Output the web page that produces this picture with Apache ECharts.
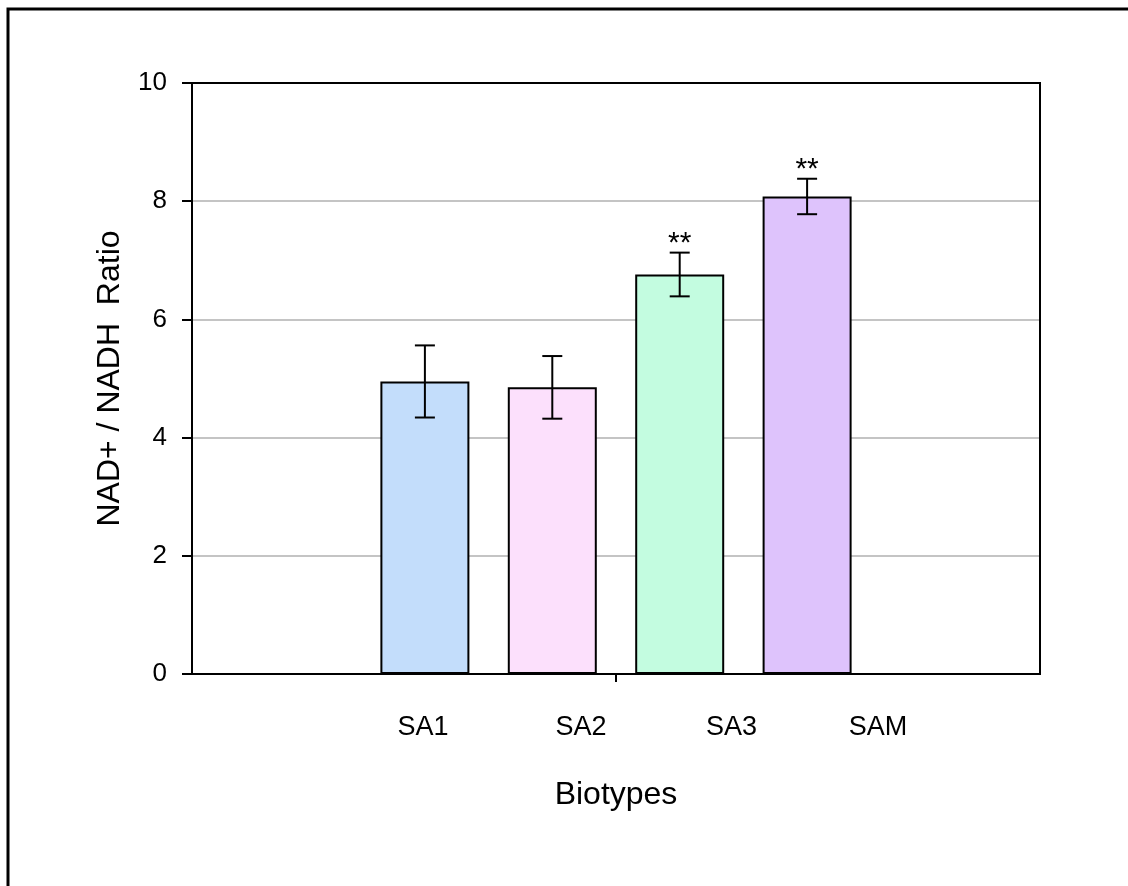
<!DOCTYPE html>
<html>
<head>
<meta charset="utf-8">
<script src="https://cdn.jsdelivr.net/npm/echarts@6/dist/echarts.min.js"></script>
<style>
html,body{margin:0;padding:0;background:#fff;}
#chart{width:1128px;height:886px;}
</style>
</head>
<body>
<div id="chart"></div>
<script>
// ---- data ----
var categories = ['SA1', 'SA2', 'SA3', 'SAM'];
var ratioValues = [4.95, 4.85, 6.76, 8.08];
var ratioErrors = [0.61, 0.53, 0.37, 0.30];
var significance = ['', '', '**', '**'];
var yTicks = [0, 2, 4, 6, 8, 10];

// ---- layout / style ----
var barColors = ['#c3ddfb', '#fce0fc', '#c3fce0', '#dec3fc'];
var FONT = '"Liberation Sans", Arial, sans-serif';
var labelSlots = [0.985, 2.225, 3.407, 4.557]; // where the category texts sit on the x scale
var X_MIN = -0.828, X_MAX = 5.828;

var barData = categories.map(function (c, i) {
  return { value: [i + 1, ratioValues[i]], itemStyle: { color: barColors[i] } };
});
var errData = categories.map(function (c, i) {
  return [i + 1, ratioValues[i] - ratioErrors[i], ratioValues[i] + ratioErrors[i], i];
});

var chart = echarts.init(document.getElementById('chart'), null, { renderer: 'canvas' });
chart.setOption({
  animation: false,
  backgroundColor: '#fff',
  textStyle: { fontFamily: FONT },
  graphic: [{
    type: 'rect', shape: { x: 8, y: 9, width: 1150, height: 900 },
    style: { fill: 'none', stroke: '#000', lineWidth: 3 }, silent: true, z: 0
  }],
  grid: { left: 192, top: 83, right: 88, bottom: 212, show: true, borderColor: '#000', borderWidth: 2, backgroundColor: 'transparent', z: 5 },
  xAxis: [{
    type: 'value', min: X_MIN, max: X_MAX,
    name: 'Biotypes', nameLocation: 'middle', nameGap: 105,
    nameTextStyle: { fontSize: 32, color: '#000', fontFamily: FONT },
    axisLine: { show: true, onZero: false, lineStyle: { color: '#000', width: 2 } },
    axisTick: { show: true, customValues: [2.5], length: 8, inside: false, lineStyle: { color: '#000', width: 2 } },
    axisLabel: { show: false },
    splitLine: { show: false }
  }, {
    type: 'value', min: X_MIN, max: X_MAX, position: 'bottom',
    axisLine: { show: false, onZero: false }, axisTick: { show: false }, splitLine: { show: false },
    axisLabel: {
      show: true, customValues: labelSlots, margin: 40, fontSize: 27, color: '#000', fontFamily: FONT,
      formatter: function (v) {
        var best = 0, bd = 1e9;
        labelSlots.forEach(function (s, i) { var d = Math.abs(s - v); if (d < bd) { bd = d; best = i; } });
        return categories[best];
      }
    }
  }],
  yAxis: {
    type: 'value', min: 0, max: 10, interval: 2,
    name: 'NAD+ / NADH  Ratio', nameLocation: 'middle', nameGap: 66, nameRotate: 90,
    nameTextStyle: { fontSize: 32, color: '#000', fontFamily: FONT },
    axisLine: { show: true, onZero: false, lineStyle: { color: '#000', width: 2 } },
    axisTick: { show: true, length: 10, lineStyle: { color: '#000', width: 2 } },
    axisLabel: { fontSize: 26, color: '#000', margin: 25, fontFamily: FONT,
      formatter: function (v) { return yTicks.indexOf(v) >= 0 ? String(v) : ''; } },
    splitLine: { show: true, lineStyle: { color: '#c4c4c4', width: 2 } }
  },
  series: [{
    type: 'bar', xAxisIndex: 0, barWidth: 89,
    data: barData,
    itemStyle: { borderColor: '#000', borderWidth: 2 },
    z: 3
  }, {
    type: 'custom', xAxisIndex: 0, z: 4,
    data: errData,
    encode: { x: 0, y: [1, 2] },
    renderItem: function (params, api) {
      var x = api.value(0), lo = api.value(1), hi = api.value(2), idx = api.value(3);
      var pLo = api.coord([x, lo]), pHi = api.coord([x, hi]);
      var hw = 10;
      var style = { stroke: '#000', lineWidth: 2 };
      var children = [
        { type: 'line', shape: { x1: pLo[0], y1: pLo[1], x2: pHi[0], y2: pHi[1] }, style: style },
        { type: 'line', shape: { x1: pHi[0] - hw, y1: pHi[1], x2: pHi[0] + hw, y2: pHi[1] }, style: style },
        { type: 'line', shape: { x1: pLo[0] - hw, y1: pLo[1], x2: pLo[0] + hw, y2: pLo[1] }, style: style }
      ];
      if (significance[idx]) {
        children.push({ type: 'text', style: {
          text: significance[idx], x: pHi[0], y: pHi[1] + 6,
          align: 'center', verticalAlign: 'bottom', fontSize: 30, fontFamily: FONT, fill: '#000'
        } });
      }
      return { type: 'group', children: children };
    }
  }]
});
</script>
</body>
</html>
